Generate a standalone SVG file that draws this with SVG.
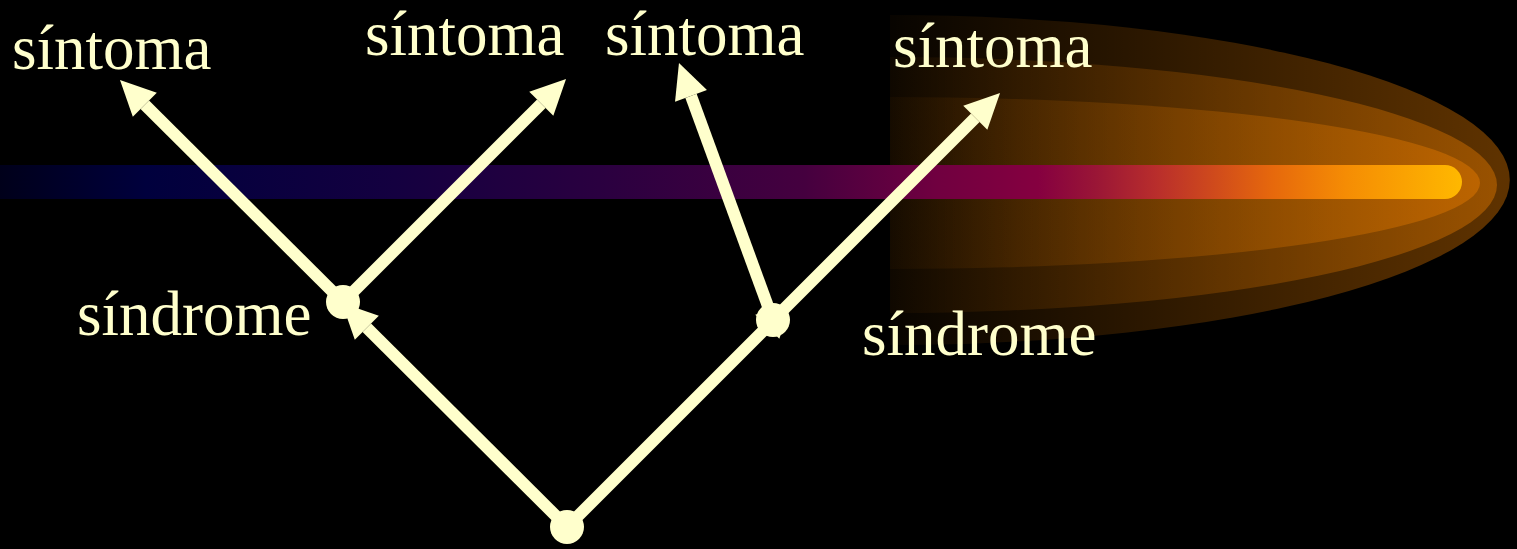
<svg xmlns="http://www.w3.org/2000/svg" width="1517" height="549" viewBox="0 0 1517 549">
  <defs>
    <linearGradient id="glow" gradientUnits="userSpaceOnUse" x1="890" y1="0" x2="1500" y2="0">
      <stop offset="0" stop-color="#ff8800" stop-opacity="0.03"/>
      <stop offset="0.5" stop-color="#ff8800" stop-opacity="0.2"/>
      <stop offset="1" stop-color="#ff8800" stop-opacity="0.37"/>
    </linearGradient>
    <linearGradient id="bar" gradientUnits="userSpaceOnUse" x1="0" y1="0" x2="1462" y2="0">
      <stop offset="0" stop-color="#00001a"/>
      <stop offset="0.1" stop-color="#00003d"/>
      <stop offset="0.27" stop-color="#140040"/>
      <stop offset="0.41" stop-color="#2a0040"/>
      <stop offset="0.55" stop-color="#45003f"/>
      <stop offset="0.64" stop-color="#700040"/>
      <stop offset="0.71" stop-color="#850040"/>
      <stop offset="0.75" stop-color="#9a1636"/>
      <stop offset="0.79" stop-color="#b82d2c"/>
      <stop offset="0.83" stop-color="#cf4a1c"/>
      <stop offset="0.87" stop-color="#e6680c"/>
      <stop offset="0.92" stop-color="#f58c04"/>
      <stop offset="1" stop-color="#ffb800"/>
    </linearGradient>
    <marker id="head" markerUnits="userSpaceOnUse" markerWidth="40" markerHeight="40" refX="0" refY="0" viewBox="-1 -20 40 40" orient="auto" overflow="visible">
      <path d="M0,-17 L35,0 L0,17 Z" fill="#ffffcc"/>
    </marker>
    <style>
      .lbl { font-family: "Liberation Serif", "Times New Roman", serif; font-size: 63px; fill: #ffffcc; }
      .edge { stroke: #ffffcc; stroke-width: 12; fill: none; marker-end: url(#head); }
      .node { fill: #ffffcc; }
      .glow { fill: url(#glow); }
    </style>
  </defs>
  <rect x="0" y="0" width="1517" height="549" fill="#000000"/>
  <g id="comet">
    <path class="glow" d="M890,15 A620,165 0 0 1 890,345 Z"/>
    <path class="glow" d="M890,57 A607,128 0 0 1 890,313 Z"/>
    <path class="glow" d="M890,97 A590,86 0 0 1 890,269 Z"/>
  </g>
  <path id="beam" d="M0,165 L1445,165 A17,17 0 0 1 1445,199 L0,199 Z" fill="url(#bar)"/>
  <g id="connectors">
    <line class="edge" x1="343" y1="302" x2="144.8" y2="104.7"/>
    <line class="edge" x1="343" y1="302" x2="541.3" y2="103.7"/>
    <line class="edge" x1="773" y1="320" x2="691" y2="95.9"/>
    <line class="edge" x1="773" y1="320" x2="975.3" y2="117.7"/>
    <line class="edge" x1="567" y1="527" x2="366.8" y2="327.7"/>
    <line class="edge" x1="567" y1="527" x2="767.3" y2="326.7"/>
  </g>
  <g id="root"><circle class="node" cx="567" cy="527" r="17"/></g>
  <g id="syndrome1"><circle class="node" cx="343" cy="302" r="17"/><text class="lbl" x="77" y="335">síndrome</text></g>
  <g id="syndrome2"><circle class="node" cx="773" cy="320" r="17"/><text class="lbl" x="862" y="355">síndrome</text></g>
  <g id="symptom1"><text class="lbl" x="12" y="69">síntoma</text></g>
  <g id="symptom2"><text class="lbl" x="365" y="55">síntoma</text></g>
  <g id="symptom3"><text class="lbl" x="605" y="55">síntoma</text></g>
  <g id="symptom4"><text class="lbl" x="893" y="67">síntoma</text></g>
</svg>
